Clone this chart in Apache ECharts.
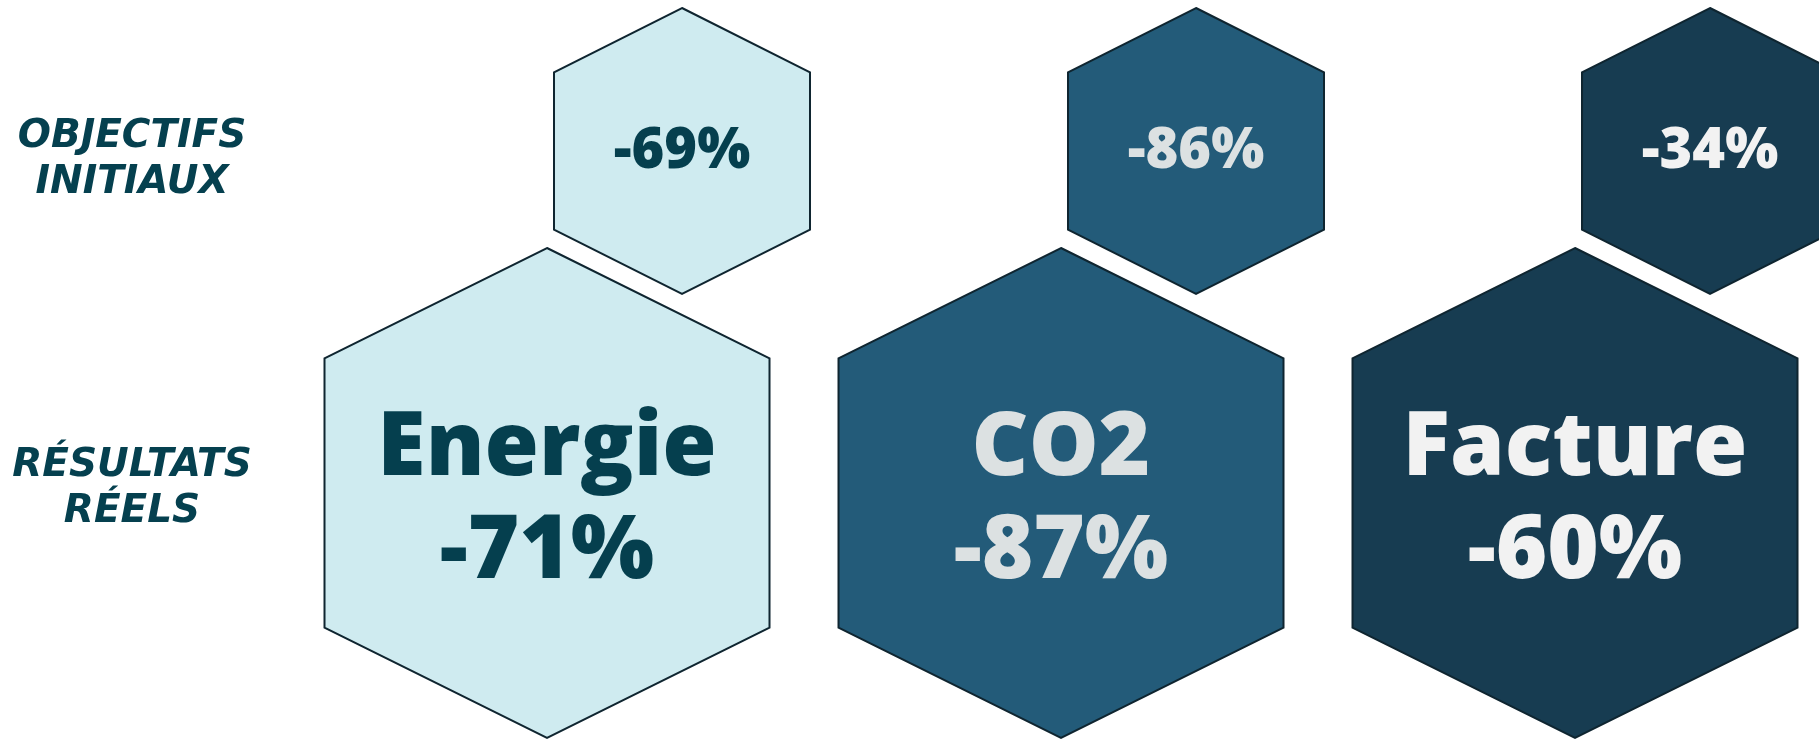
<!DOCTYPE html>
<html>
<head>
<meta charset="utf-8">
<script src="https://cdn.jsdelivr.net/npm/echarts@6/dist/echarts.min.js"></script>
<style>
html,body{margin:0;padding:0;background:#ffffff;}
#chart{width:1819px;height:744px;}
</style>
</head>
<body>
<div id="chart"></div>
<script>
// ---- data ----
const categories = ['Energie', 'CO2', 'Facture'];
const objectifs = [-69, -86, -34];
const resultats = [-71, -87, -60];
const rowLabels = ['RÉSULTATS\nRÉELS', 'OBJECTIFS\nINITIAUX'];

// ---- styles ----
const fillColors = ['#CFEBF0', '#235B79', '#173C51'];
const textColors = ['#053F4E', '#DCE1E2', '#F2F2F2'];
const strokeColor = '#0F2530';
const fmt = v => v + '%';

function hexRender(w, h, dx, dyText, fontSize, lineH, withName) {
  return function (params, api) {
    const idx = api.value(0);
    const c = api.coord([api.value(0), api.value(1)]);
    const cx = c[0] + dx, cy = c[1];
    const s = h * 0.225;
    const pts = [
      [cx, cy - h / 2],
      [cx + w / 2, cy - h / 2 + s],
      [cx + w / 2, cy + h / 2 - s],
      [cx, cy + h / 2],
      [cx - w / 2, cy + h / 2 - s],
      [cx - w / 2, cy - h / 2 + s]
    ];
    const txt = withName ? categories[idx] + '\n' + fmt(api.value(2)) : fmt(api.value(2));
    return {
      type: 'group',
      children: [
        { type: 'polygon', shape: { points: pts },
          style: { fill: fillColors[idx], stroke: strokeColor, lineWidth: 2 } },
        { type: 'text', x: cx, y: cy + dyText,
          style: { text: txt, fill: textColors[idx], fontSize: fontSize, fontWeight: 800,
                   fontFamily: '"Open Sans", sans-serif', align: 'center', verticalAlign: 'middle',
                   lineHeight: lineH } }
      ]
    };
  };
}

const chart = echarts.init(document.getElementById('chart'), null, { renderer: 'canvas' });
chart.setOption({
  backgroundColor: '#ffffff',
  animation: false,
  grid: { left: 264, right: 0, top: 151, bottom: 251 },
  xAxis: { type: 'value', min: -0.5506, max: 2.4747, show: false },
  yAxis: {
    type: 'category',
    boundaryGap: false,
    data: rowLabels,
    axisLine: { show: false },
    axisTick: { show: false },
    splitLine: { show: false },
    axisLabel: {
      align: 'center',
      margin: 132,
      formatter: function (value, index) {
        const body = value.split('\n').map(l => '{a|' + l + '}').join('\n');
        return index === 1 ? '{s1| }\n' + body : body + '\n{s2| }';
      },
      rich: {
        a: {
          color: '#05404F',
          fontSize: 39,
          fontWeight: 'bold',
          fontStyle: 'italic',
          fontFamily: '"DejaVu Sans", sans-serif',
          lineHeight: 46,
          align: 'center'
        },
        s1: { fontSize: 1, lineHeight: 18 },
        s2: { fontSize: 1, lineHeight: 8 }
      }
    }
  },
  series: [
    {
      name: 'Résultats réels',
      type: 'custom',
      clip: false,
      renderItem: hexRender(445, 490, 0, 8, 88, 103, true),
      data: resultats.map((v, i) => [i, 0, v])
    },
    {
      name: 'Objectifs initiaux',
      type: 'custom',
      clip: false,
      renderItem: hexRender(256, 286, 135, 1, 56, 60, false),
      data: objectifs.map((v, i) => [i, 1, v])
    }
  ]
});
</script>
</body>
</html>
